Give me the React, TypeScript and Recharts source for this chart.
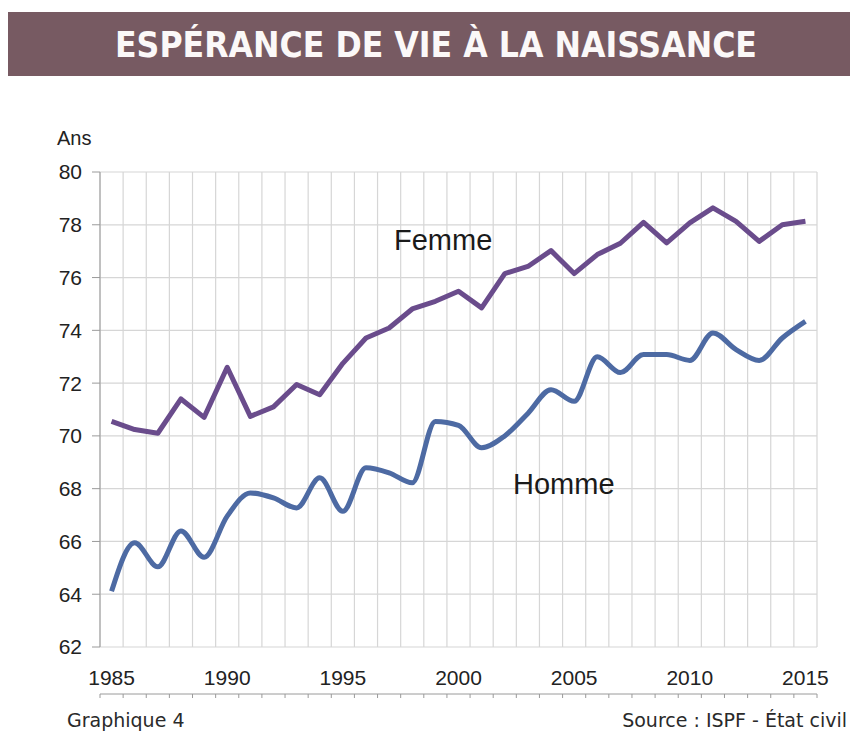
import React from 'react';
import {
    LineChart,
    Line,
    XAxis,
    YAxis,
    CartesianGrid,
} from 'recharts';

const years = [
    1985, 1986, 1987, 1988, 1989, 1990, 1991, 1992, 1993, 1994,
    1995, 1996, 1997, 1998, 1999, 2000, 2001, 2002, 2003, 2004,
    2005, 2006, 2007, 2008, 2009, 2010, 2011, 2012, 2013, 2014, 2015,
];

const femme = [
    70.55, 70.24, 70.1, 71.4, 70.7, 72.6, 70.74, 71.1, 71.95, 71.56,
    72.75, 73.71, 74.09, 74.81, 75.1, 75.48, 74.85, 76.15, 76.42, 77.02,
    76.15, 76.87, 77.3, 78.09, 77.31, 78.07, 78.64, 78.13, 77.37, 78.0, 78.13,
];

const homme = [
    64.11, 65.95, 65.04, 66.4, 65.4, 66.96, 67.84, 67.65, 67.27, 68.41,
    67.14, 68.79, 68.6, 68.22, 70.55, 70.4, 69.55, 70.0, 70.85, 71.75,
    71.31, 73.0, 72.4, 73.08, 73.08, 72.86, 73.9, 73.27, 72.86, 73.71, 74.34,
];

const yTicks = [62, 64, 66, 68, 70, 72, 74, 76, 78, 80];
const xLabelTicks = [1985, 1990, 1995, 2000, 2005, 2010, 2015];

const data = years.map((year, i) => ({ year, femme: femme[i], homme: homme[i] }));

// category boundaries, one half-year either side of each point
const boundaries = [...years.map((y) => y - 0.5), years[years.length - 1] + 0.5];
const xDomain: [number, number] = [boundaries[0], boundaries[boundaries.length - 1]];

const tickFont = { fontSize: 21, fill: '#222', fontFamily: '"Liberation Sans", Arial, sans-serif' };
const noteFont = '"DejaVu Sans", Verdana, sans-serif';

// keeps the boundary ticks (for grid + tick marks) but draws no label
const NoLabel = () => <g />;

export default function App() {
    return (
        <div style={{ position: 'absolute', left: 0, top: 0, width: 850, height: 731, background: '#fff' }}>
            <svg width={850} height={90} style={{ position: 'absolute', left: 0, top: 0 }}>
                <rect x={8} y={12} width={842} height={64} fill="#775a62" />
                <text
                    x={436}
                    y={57}
                    textAnchor="middle"
                    fill="#fbf8f8"
                    fontSize={35}
                    fontWeight="bold"
                    fontFamily='"DejaVu Sans Condensed", "DejaVu Sans", sans-serif'
                    textLength={642}
                    lengthAdjust="spacingAndGlyphs"
                >
                    ESPÉRANCE DE VIE À LA NAISSANCE
                </text>
            </svg>

            <div style={{ position: 'absolute', left: 0, top: 0 }}>
                <LineChart
                    width={850}
                    height={700}
                    data={data}
                    margin={{ top: 172, right: 33, left: 0, bottom: 0 }}
                >
                    <CartesianGrid xAxisId="grid" stroke="#d6d6d6" strokeWidth={1.2} />
                    <XAxis
                        xAxisId="grid"
                        type="number"
                        dataKey="year"
                        domain={xDomain}
                        ticks={boundaries}
                        tick={NoLabel}
                        tickSize={4}
                        height={6}
                        interval={0}
                        axisLine={{ stroke: '#9a9a9a' }}
                        tickLine={{ stroke: '#9a9a9a' }}
                        allowDataOverflow
                    />
                    <XAxis
                        type="number"
                        dataKey="year"
                        domain={xDomain}
                        ticks={xLabelTicks}
                        tick={tickFont}
                        tickSize={0}
                        tickMargin={23}
                        height={47}
                        interval={0}
                        axisLine={false}
                        tickLine={false}
                        allowDataOverflow
                    />
                    <YAxis
                        domain={[62, 80]}
                        ticks={yTicks}
                        width={100}
                        tick={tickFont}
                        tickSize={8}
                        tickMargin={10}
                        axisLine={{ stroke: '#9a9a9a' }}
                        tickLine={{ stroke: '#9a9a9a' }}
                    />
                    <Line
                        type="linear"
                        dataKey="femme"
                        stroke="#6a4c8c"
                        strokeWidth={5}
                        strokeLinejoin="round"
                        dot={false}
                        isAnimationActive={false}
                    />
                    <Line
                        type="monotone"
                        dataKey="homme"
                        stroke="#4d6aa3"
                        strokeWidth={5}
                        dot={false}
                        isAnimationActive={false}
                    />
                </LineChart>
            </div>

            <svg width={850} height={731} style={{ position: 'absolute', left: 0, top: 0, pointerEvents: 'none' }}>
                <text x={57} y={145} fontSize={20} fill="#222" fontFamily='"Liberation Sans", Arial, sans-serif'>Ans</text>
                <text x={394} y={250} fontSize={29} fill="#1a1a1a" fontFamily='"Liberation Sans", Arial, sans-serif'>Femme</text>
                <text x={513} y={494} fontSize={29} fill="#1a1a1a" fontFamily='"Liberation Sans", Arial, sans-serif'>Homme</text>
                <text x={67} y={727} fontSize={19} fill="#2a2a2a" fontFamily={noteFont}>Graphique 4</text>
                <text x={847} y={727} fontSize={19} fill="#2a2a2a" textAnchor="end" fontFamily={noteFont}>Source : ISPF - État civil</text>
            </svg>
        </div>
    );
}
